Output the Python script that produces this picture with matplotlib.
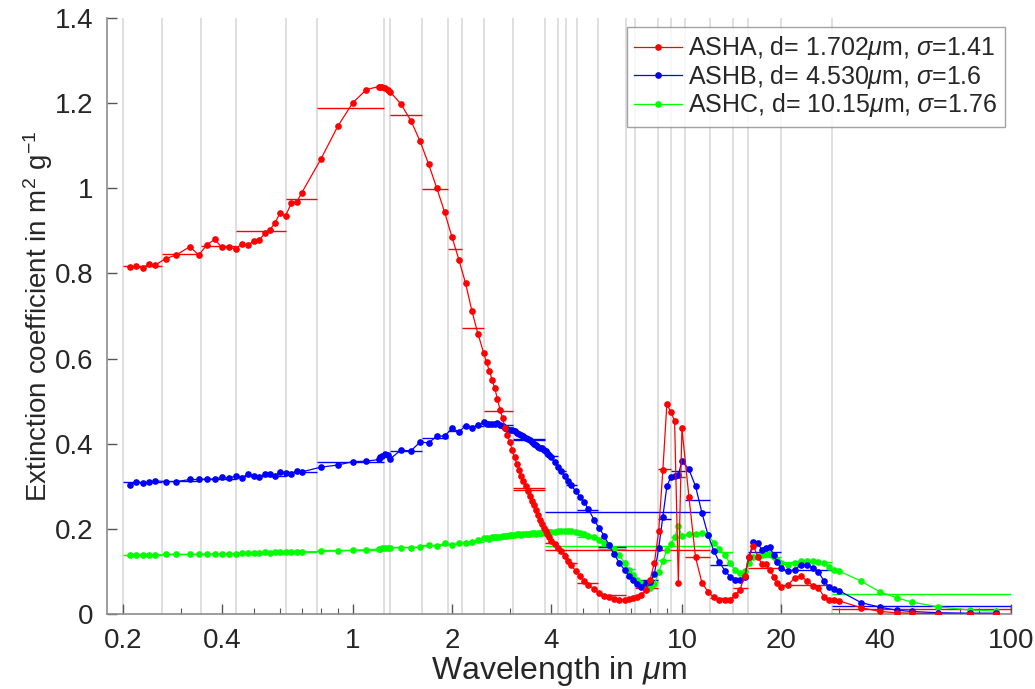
import numpy as np
import matplotlib
matplotlib.use('Agg')
import matplotlib.pyplot as plt
from matplotlib.ticker import LogLocator, NullFormatter

plt.rcParams['font.family'] = ['Liberation Sans', 'DejaVu Sans']
plt.rcParams['mathtext.fontset'] = 'custom'
plt.rcParams['mathtext.rm'] = 'Liberation Sans'
plt.rcParams['mathtext.it'] = 'Liberation Sans:italic'

# wavelength grid (um) shared by the three ash modes
wavelength = [0.21, 0.22, 0.23, 0.24, 0.25, 0.27, 0.29, 0.32, 0.34, 0.36, 0.38, 0.40, 0.42,
              0.44, 0.46, 0.48, 0.50, 0.52, 0.54, 0.56, 0.58, 0.60, 0.625, 0.65, 0.675, 0.70,
              0.8, 0.9, 1.0, 1.1, 1.2, 1.21, 1.23, 1.25, 1.275, 1.3,
              1.4, 1.5, 1.6, 1.7, 1.8, 1.9, 2.0, 2.1, 2.2, 2.3, 2.4,
              2.5, 2.55, 2.6, 2.65, 2.7, 2.75, 2.8, 2.85, 2.9, 2.95, 3.0, 3.05, 3.1, 3.15, 3.2,
              3.25, 3.3, 3.35, 3.4, 3.45, 3.5, 3.55, 3.6, 3.65, 3.7, 3.75, 3.8, 3.85, 3.9, 3.95, 4.0,
              4.1, 4.2, 4.3, 4.4, 4.5, 4.6, 4.75, 4.9, 5.05, 5.2, 5.4, 5.6, 5.8, 6.0, 6.2, 6.45,
              6.7, 6.9, 7.1, 7.3, 7.5,
              7.75, 8.0, 8.25, 8.5, 8.75, 9.0, 9.25, 9.5, 9.75, 10.0, 10.5, 11.0, 11.5, 12.0, 12.5,
              13.0, 13.5, 14.0, 14.5, 15.0, 15.5, 16.0, 16.5, 17.0, 17.5, 18.0, 18.5, 19.0, 19.5, 20.0,
              21, 22, 23, 24, 25, 26, 27, 28, 29, 30, 35, 40, 45, 50, 60, 75, 90]

asha = [.815, .817, .813, .822, .819, .835, .843, .863, .843, .867, .880, .861, .861,
        .858, .869, .866, .877, .879, .894, .903, .919, .941, .936, .965, .968, .990,
        1.069, 1.146, 1.201, 1.232, 1.239, 1.239, 1.237, 1.235, 1.231, 1.226,
        1.198, 1.159, 1.111, 1.056, 1.000, .944, .886, .832, .777, .712, .658,
        .612, .591, .571, .550, .530, .505, .480, .460, .437, .420, .403, .385, .368, .352, .338,
        .325, .312, .300, .290, .278, .266, .255, .244, .233, .222, .212, .203, .195, .188, .180, .172,
        .164, .156, .147, .136, .125, .115, .102, .090, .078, .069, .059, .050, .042, .039, .036, .034,
        .034, .035, .037, .041, .045,
        .056, .080, .121, .195, .338, .493, .475, .454, .074, .436, .276, .133, .074, .052, .039,
        .033, .032, .033, .045, .056, .090, .135, .160, .135, .117, .117, .103, .088, .072, .064,
        .068, .085, .090, .077, .067, .062, .041, .034, .033, .031, .015, .006, .003, .002, .001, .001, .001]

ashb = [.303, .311, .307, .309, .313, .311, .311, .316, .316, .317, .317, .321, .319,
        .324, .320, .328, .325, .323, .328, .329, .324, .334, .332, .329, .337, .334,
        .345, .350, .358, .359, .363, .368, .371, .376, .373, .365,
        .385, .383, .404, .402, .418, .418, .436, .428, .442, .438, .444,
        .450, .447, .446, .446, .447, .448, .445, .441, .436, .435, .433, .432, .429, .426, .423,
        .420, .417, .414, .411, .408, .404, .400, .397, .393, .391, .389, .386, .383, .378, .374, .370,
        .356, .346, .336, .324, .312, .303, .289, .276, .262, .246, .222, .202, .184, .162, .142, .121,
        .103, .090, .080, .071, .064,
        .072, .075, .095, .155, .228, .300, .321, .325, .327, .359, .340, .300, .238, .186, .148,
        .122, .102, .088, .080, .080, .086, .135, .170, .166, .151, .156, .158, .138, .122, .108,
        .100, .104, .116, .116, .107, .099, .078, .063, .058, .055, .027, .016, .009, .006, .003, .002, .002]

ashc = [.139, .139, .139, .139, .138, .140, .140, .140, .140, .140, .141, .141, .142,
        .142, .143, .143, .143, .144, .145, .144, .145, .145, .146, .146, .146, .146,
        .147, .148, .150, .151, .153, .153, .154, .154, .154, .155,
        .156, .156, .158, .161, .160, .166, .162, .166, .167, .170, .174,
        .178, .179, .177, .180, .181, .182, .181, .183, .184, .183, .185, .186, .185, .187, .187,
        .186, .188, .188, .189, .188, .190, .190, .189, .191, .191, .190, .192, .191, .192, .192, .192,
        .193, .194, .195, .195, .195, .194, .192, .190, .187, .184, .180, .175, .168, .161, .153, .138,
        .120, .103, .092, .080, .072,
        .068, .060, .070, .099, .125, .150, .165, .180, .207, .183, .187, .189, .190, .185, .168,
        .152, .139, .119, .103, .096, .100, .120, .135, .136, .139, .142, .142, .135, .126, .119,
        .115, .121, .125, .125, .124, .123, .119, .111, .103, .101, .0775, .052, .038, .028, .017, .0094, .007]

# RRTMG band limits in wavenumber (cm-1)
sw_lo = [2600, 3250, 4000, 4650, 5150, 6150, 7700, 8050, 12850, 16000, 22650, 29000, 38000, 820]
sw_hi = [3250, 4000, 4650, 5150, 6150, 7700, 8050, 12850, 16000, 22650, 29000, 38000, 50000, 2600]
lw_lo = [10, 350, 500, 630, 700, 820, 980, 1080, 1180, 1390, 1480, 1800, 2080, 2250, 2380, 2600]
lw_hi = [350, 500, 630, 700, 820, 980, 1080, 1180, 1390, 1480, 1800, 2080, 2250, 2380, 2600, 3250]

# band averaged extinction
asha_sw = [0.295, 0.478, 0.672, 0.858, 0.999, 1.173, 1.235, 1.188, 0.974, 0.899, 0.865, 0.846, 0.817, 0.150]
ashb_sw = [0.408, 0.444, 0.442, 0.430, 0.414, 0.384, 0.372, 0.356, 0.333, 0.325, 0.317, 0.312, 0.309, 0.239]
ashc_sw = [0.188, 0.181, 0.170, 0.165, 0.162, 0.157, 0.154, 0.150, 0.146, 0.144, 0.141, 0.140, 0.139, 0.160]
asha_lw = [0.011, 0.068, 0.108, 0.060, 0.038, 0.134, 0.322, 0.340, 0.062, 0.035, 0.044, 0.074, 0.119, 0.143, 0.166, 0.291]
ashb_lw = [0.020, 0.103, 0.145, 0.084, 0.115, 0.269, 0.337, 0.224, 0.080, 0.088, 0.158, 0.245, 0.303, 0.337, 0.372, 0.410]
ashc_lw = [0.048, 0.122, 0.135, 0.099, 0.145, 0.188, 0.180, 0.128, 0.075, 0.105, 0.152, 0.182, 0.193, 0.195, 0.192, 0.188]

labels = [r'ASHA, d= 1.702$\mu$m, $\sigma$=1.41',
          r'ASHB, d= 4.530$\mu$m, $\sigma$=1.6',
          r'ASHC, d= 10.15$\mu$m, $\sigma$=1.76']
colors = ['#ff0000', '#0000ff', '#00ff00']

x_ticks = [0.2, 0.4, 1, 2, 4, 10, 20, 40, 100]
x_ticklabels = ['0.2', '0.4', '1', '2', '4', '10', '20', '40', '100']
y_ticks = [0, 0.2, 0.4, 0.6, 0.8, 1.0, 1.2, 1.4]

fig = plt.figure(figsize=(10.35, 6.89), dpi=100)
ax = fig.add_axes([0.1034, 0.1088, 0.8734, 0.8651])
ax.set_xscale('log')

# band edges as light vertical lines
edges = 1e4 / np.array(sw_lo + sw_hi + lw_lo + lw_hi, dtype=float)
edges = np.unique(np.round(edges, 4))
for e in edges:
    if 0.18 < e < 100:
        ax.axvline(e, color='#dcdcdc', lw=1.3, zorder=0)

wl = np.array(wavelength)
curves = [asha, ashb, ashc]
sw_vals = [asha_sw, ashb_sw, ashc_sw]
lw_vals = [asha_lw, ashb_lw, ashc_lw]
handles = []
for i in [2, 1, 0]:
    c = colors[i]
    ax.hlines(sw_vals[i], 1e4 / np.array(sw_hi, float), 1e4 / np.array(sw_lo, float),
              colors=c, lw=1.0, zorder=2)
    ax.hlines(lw_vals[i], 1e4 / np.array(lw_hi, float), 1e4 / np.array(lw_lo, float),
              colors=c, lw=1.0, zorder=2)
    h, = ax.plot(wl, curves[i], '-', color=c, lw=0.9, marker='o', ms=3.8,
                 mec=c, mfc=c, label=labels[i], zorder=3 + (2 - i))
    handles.append(h)
handles = handles[::-1]

# closing edge of the first longwave band at the axis limit
ax.plot([1e4 / lw_hi[0], 100, 100], [0.001, 0.001, ashb_lw[0]], color='#0000ff', lw=1.0, zorder=2)

ax.set_xlim(0.179, 100)
ax.set_ylim(0, 1.4)
ax.set_xticks(x_ticks)
ax.set_xticklabels(x_ticklabels)
ax.xaxis.set_minor_locator(LogLocator(base=10, subs=np.arange(2, 10)))
ax.xaxis.set_minor_formatter(NullFormatter())
ax.set_yticks(y_ticks)
ax.set_yticklabels(['%g' % v for v in y_ticks])

for s in ['top', 'right']:
    ax.spines[s].set_visible(False)
for s in ['left', 'bottom']:
    ax.spines[s].set_color('#8c8c8c')
    ax.spines[s].set_linewidth(1.2)
ax.tick_params(which='both', direction='in', colors='#555555', labelcolor='#262626', labelsize=20)
ax.tick_params(which='major', length=7, width=1)
ax.tick_params(which='minor', length=4, width=0.8)
ax.tick_params(axis='x', pad=10)
ax.tick_params(axis='y', pad=10)

ax.set_xlabel(r'Wavelength in $\mu$m', fontsize=23, color='#262626', labelpad=0)
ax.set_ylabel(r'Extinction coefficient in m$^2$ g$^{-1}$', fontsize=20, color='#262626', labelpad=0)

leg = ax.legend(handles=handles, loc='upper right', bbox_to_anchor=(0.993, 0.985),
                fontsize=18, frameon=True, fancybox=False, handlelength=1.9,
                handletextpad=0.25, labelspacing=0.02, borderpad=0.3, borderaxespad=0)
leg.get_frame().set_edgecolor('#8c8c8c')
leg.get_frame().set_linewidth(1.0)
for t in leg.get_texts():
    t.set_color('#262626')

fig.savefig('out.png', dpi=100)
